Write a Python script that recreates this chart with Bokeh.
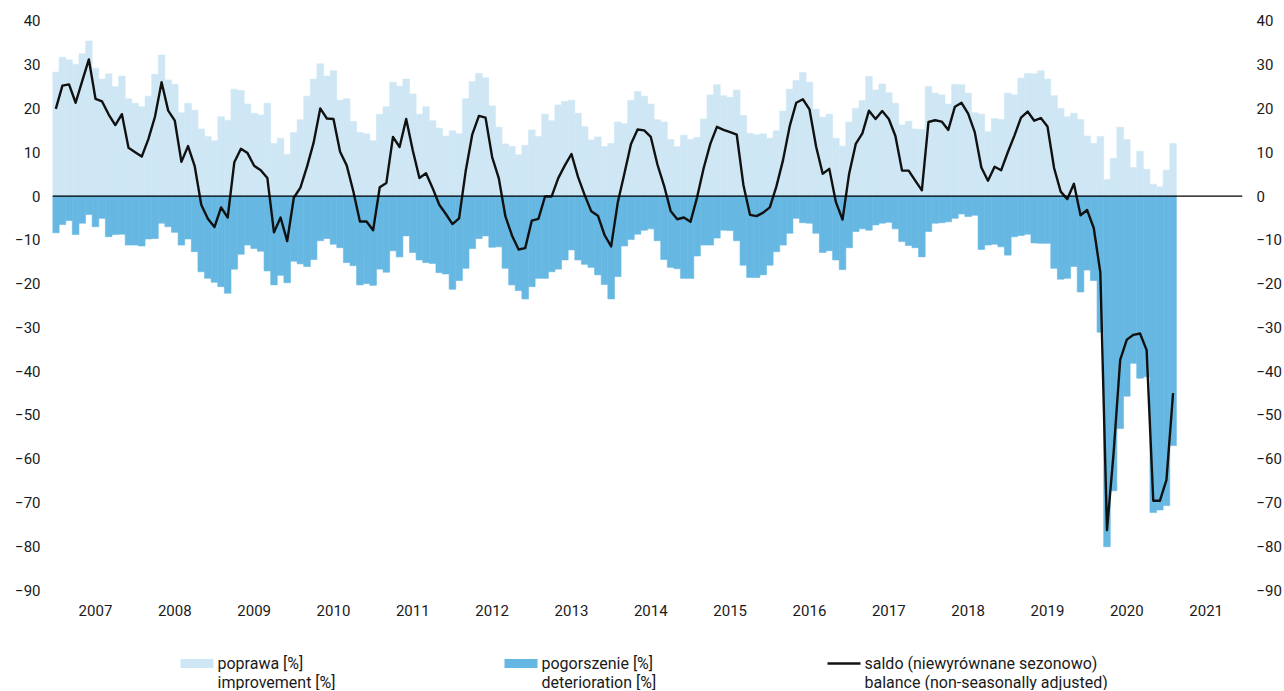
from bokeh.plotting import figure
from bokeh.layouts import column
from bokeh.models import (Range1d, LinearAxis, FixedTicker, Span,
                          ColumnDataSource)
from bokeh.core.properties import value
from bokeh.embed import file_html
from bokeh.resources import INLINE

# Monthly data, January 2007 - February 2021
poprawa = [
    28.3, 31.7, 31.1, 30.1, 32.5, 35.4, 29.2, 26.7, 27.9, 25.0, 27.4, 22.2,
    21.2, 20.4, 22.8, 27.8, 32.2, 26.5, 25.5, 19.0, 21.2, 19.6, 15.3, 13.6,
    12.6, 18.1, 17.3, 24.4, 24.1, 21.0, 18.9, 18.5, 21.2, 12.0, 13.2, 9.5,
    14.5, 17.4, 22.8, 26.7, 30.2, 27.4, 28.6, 21.9, 22.2, 17.0, 14.5, 14.2,
    12.6, 18.7, 20.4, 26.0, 25.1, 26.7, 23.3, 18.7, 20.4, 17.2, 15.5, 13.7,
    14.9, 14.2, 22.2, 26.1, 28.0, 27.0, 20.6, 15.7, 11.9, 11.3, 9.4, 11.6,
    15.1, 13.6, 18.7, 17.2, 20.8, 21.6, 21.9, 18.9, 15.8, 12.8, 13.5, 11.3,
    12.0, 16.9, 16.5, 21.8, 23.9, 22.8, 21.0, 17.4, 16.9, 12.9, 11.3, 13.9,
    12.9, 13.4, 17.6, 23.1, 25.4, 22.9, 22.5, 24.2, 18.4, 14.3, 14.0, 14.2,
    13.2, 14.9, 19.4, 24.4, 26.4, 28.2, 26.0, 19.8, 18.0, 18.7, 13.2, 11.4,
    16.9, 20.0, 21.8, 27.3, 24.2, 25.6, 23.6, 21.2, 16.2, 17.1, 15.3, 15.2,
    25.0, 23.5, 23.1, 21.0, 25.5, 25.4, 23.5, 19.0, 18.7, 14.7, 17.7, 17.5,
    23.5, 23.1, 26.9, 28.0, 27.9, 28.6, 26.7, 22.9, 20.0, 18.1, 18.9, 17.5,
    13.7, 12.0, 13.6, 3.8, 8.6, 15.7, 12.9, 6.5, 10.2, 6.1, 2.7, 2.1,
    5.9, 12.0,
]
pogorszenie = [
    -8.4, -6.5, -5.6, -8.8, -6.2, -4.2, -7.0, -5.1, -9.3, -8.8, -8.7, -11.2,
    -11.2, -11.4, -9.8, -9.7, -6.2, -7.0, -8.3, -11.2, -9.8, -12.7, -17.3, -18.8,
    -19.7, -20.7, -22.2, -16.7, -13.3, -11.2, -12.0, -12.6, -17.1, -20.3, -18.1, -19.8,
    -14.9, -15.5, -16.1, -14.5, -10.2, -9.7, -11.0, -11.8, -15.2, -15.9, -20.3, -20.0,
    -20.4, -16.7, -17.4, -12.5, -13.9, -9.1, -12.9, -14.6, -15.2, -15.4, -17.5, -17.8,
    -21.3, -19.3, -16.5, -12.0, -9.7, -9.1, -11.7, -11.6, -16.5, -20.3, -21.6, -23.5,
    -20.7, -18.8, -18.8, -17.3, -16.7, -14.6, -12.3, -14.6, -15.6, -16.3, -18.0, -20.2,
    -23.5, -18.4, -11.4, -9.9, -8.7, -7.8, -7.5, -10.2, -14.5, -16.3, -16.6, -18.8,
    -18.8, -13.7, -11.2, -11.2, -9.6, -7.8, -7.9, -10.2, -15.8, -18.6, -18.6, -18.0,
    -15.8, -12.7, -11.2, -8.5, -5.1, -6.1, -6.2, -8.5, -12.9, -12.5, -14.6, -16.8,
    -11.8, -8.1, -7.5, -7.8, -6.6, -6.2, -6.0, -7.5, -10.4, -11.3, -11.8, -13.9,
    -8.1, -6.2, -6.1, -5.9, -5.1, -4.1, -4.7, -4.4, -12.2, -11.2, -11.0, -11.6,
    -13.5, -9.3, -9.0, -8.7, -10.7, -10.8, -10.8, -16.5, -19.0, -18.8, -16.1, -21.9,
    -16.9, -19.3, -31.1, -80.1, -67.3, -53.1, -45.7, -38.2, -41.6, -41.3, -72.3, -71.7,
    -70.7, -57.0,
]
saldo = [
    19.9, 25.2, 25.5, 21.3, 26.3, 31.2, 22.2, 21.6, 18.6, 16.2, 18.7, 11.0,
    10.0, 9.0, 13.0, 18.1, 26.0, 19.5, 17.2, 7.8, 11.4, 6.9, -2.0, -5.2,
    -7.1, -2.6, -4.9, 7.7, 10.8, 9.8, 6.9, 5.9, 4.1, -8.3, -4.9, -10.3,
    -0.4, 1.9, 6.7, 12.2, 20.0, 17.7, 17.6, 10.1, 7.0, 1.1, -5.8, -5.8,
    -7.8, 2.0, 3.0, 13.5, 11.2, 17.6, 10.4, 4.1, 5.2, 1.8, -2.0, -4.1,
    -6.4, -5.1, 5.7, 14.1, 18.3, 17.9, 8.9, 4.1, -4.6, -9.0, -12.2, -11.9,
    -5.6, -5.2, -0.1, -0.1, 4.1, 7.0, 9.6, 4.3, 0.2, -3.5, -4.5, -8.9,
    -11.5, -1.5, 5.1, 11.9, 15.2, 15.0, 13.5, 7.2, 2.4, -3.4, -5.3, -4.9,
    -5.9, -0.3, 6.4, 11.9, 15.8, 15.1, 14.6, 14.0, 2.6, -4.3, -4.6, -3.8,
    -2.6, 2.2, 8.2, 15.9, 21.3, 22.1, 19.8, 11.3, 5.1, 6.2, -1.4, -5.4,
    5.1, 11.9, 14.3, 19.5, 17.6, 19.4, 17.6, 13.7, 5.8, 5.8, 3.5, 1.3,
    16.9, 17.3, 17.0, 15.1, 20.4, 21.3, 18.8, 14.6, 6.5, 3.5, 6.7, 5.9,
    10.0, 13.8, 17.9, 19.3, 17.2, 17.8, 15.9, 6.4, 1.0, -0.7, 2.8, -4.4,
    -3.2, -7.3, -17.5, -76.3, -58.7, -37.4, -32.8, -31.7, -31.4, -35.2, -69.6, -69.6,
    -64.8, -45.0,
]
years = [str(y) for y in range(2007, 2022)]
y_ticks = list(range(-90, 41, 10))

legend_pl = ["poprawa [%]", "pogorszenie [%]", "saldo (niewyrównane sezonowo)"]
legend_en = ["improvement [%]", "deterioration [%]",
             "balance (non-seasonally adjusted)"]

C_LIGHT = "#cfe7f5"
C_DARK = "#66b8e2"
C_LINE = "#111111"
FONT = "Roboto"
TXT = "#1a1a1a"

n = len(poprawa)
x = [i + 0.5 for i in range(n)]
src = ColumnDataSource(dict(x=x, pop=poprawa, pog=pogorszenie, sal=saldo))

# ---------------- main chart ----------------
p = figure(width=1284, height=639, output_backend="svg", toolbar_location=None,
           x_range=Range1d(0, 180), y_range=Range1d(-91, 41),
           min_border_left=52, min_border_right=42, min_border_top=16,
           min_border_bottom=45)
p.outline_line_color = None
p.grid.visible = False
p.background_fill_color = "white"

p.vbar(x="x", width=1, top="pop", bottom=0, source=src,
       fill_color=C_LIGHT, line_color=C_LIGHT, line_width=0.6)
p.vbar(x="x", width=1, top=0, bottom="pog", source=src,
       fill_color=C_DARK, line_color=C_DARK, line_width=0.6)
p.add_layout(Span(location=0, dimension="width", line_color="black",
                  line_width=1.3))
p.line(x="x", y="sal", source=src, line_color=C_LINE,
       line_width=2.4, line_join="round")

# y axes (left and right)
p.yaxis.ticker = FixedTicker(ticks=y_ticks)
yr = LinearAxis(ticker=FixedTicker(ticks=y_ticks))
p.add_layout(yr, "right")
for ax in (p.yaxis[0], yr):
    ax.axis_line_color = None
    ax.major_tick_line_color = None
    ax.minor_tick_line_color = None
    ax.major_tick_out = 0
    ax.major_label_text_font = FONT
    ax.major_label_text_font_size = "15px"
    ax.major_label_text_color = TXT
p.yaxis[0].major_label_standoff = 12
yr.major_label_standoff = 14

# x axis with year labels at mid-year
xt = [6.5 + 12 * k for k in range(len(years))]
p.xaxis.ticker = FixedTicker(ticks=xt)
p.xaxis.major_label_overrides = {t: yv for t, yv in zip(xt, years)}
p.xaxis.axis_line_color = None
p.xaxis.major_tick_line_color = None
p.xaxis.minor_tick_line_color = None
p.xaxis.major_tick_out = 0
p.xaxis.major_label_standoff = 10
p.xaxis.major_label_text_font = FONT
p.xaxis.major_label_text_font_size = "15px"
p.xaxis.major_label_text_color = TXT

# ---------------- legend strip (page-pixel coordinates) ----------------
lg = figure(width=1284, height=51, output_backend="svg", toolbar_location=None,
            x_range=Range1d(52, 1242), y_range=Range1d(690, 639),
            x_axis_type=None, y_axis_type=None,
            min_border_left=52, min_border_right=42, min_border_top=0,
            min_border_bottom=0)
lg.outline_line_color = None
lg.grid.visible = False

key_left = [180, 504, 827]
key_w = 33
text_x = [k + key_w + 4 for k in key_left]
row1_y, row2_y = 663.0, 681.5

lg.quad(left=key_left[:2], right=[k + key_w for k in key_left[:2]],
        top=[658.5, 658.5], bottom=[667.5, 667.5],
        fill_color=[C_LIGHT, C_DARK], line_color=None)
lg.segment(x0=[key_left[2]], y0=[663.0], x1=[key_left[2] + key_w],
           y1=[663.0], line_color=C_LINE, line_width=2.5)
lg.text(x=text_x + text_x, y=[row1_y] * 3 + [row2_y] * 3,
        text=legend_pl + legend_en, text_baseline="middle", text_align="left",
        text_font=value(FONT), text_font_size="16px", text_color=TXT)

open("out.html", "w").write(file_html(column(p, lg), INLINE))
